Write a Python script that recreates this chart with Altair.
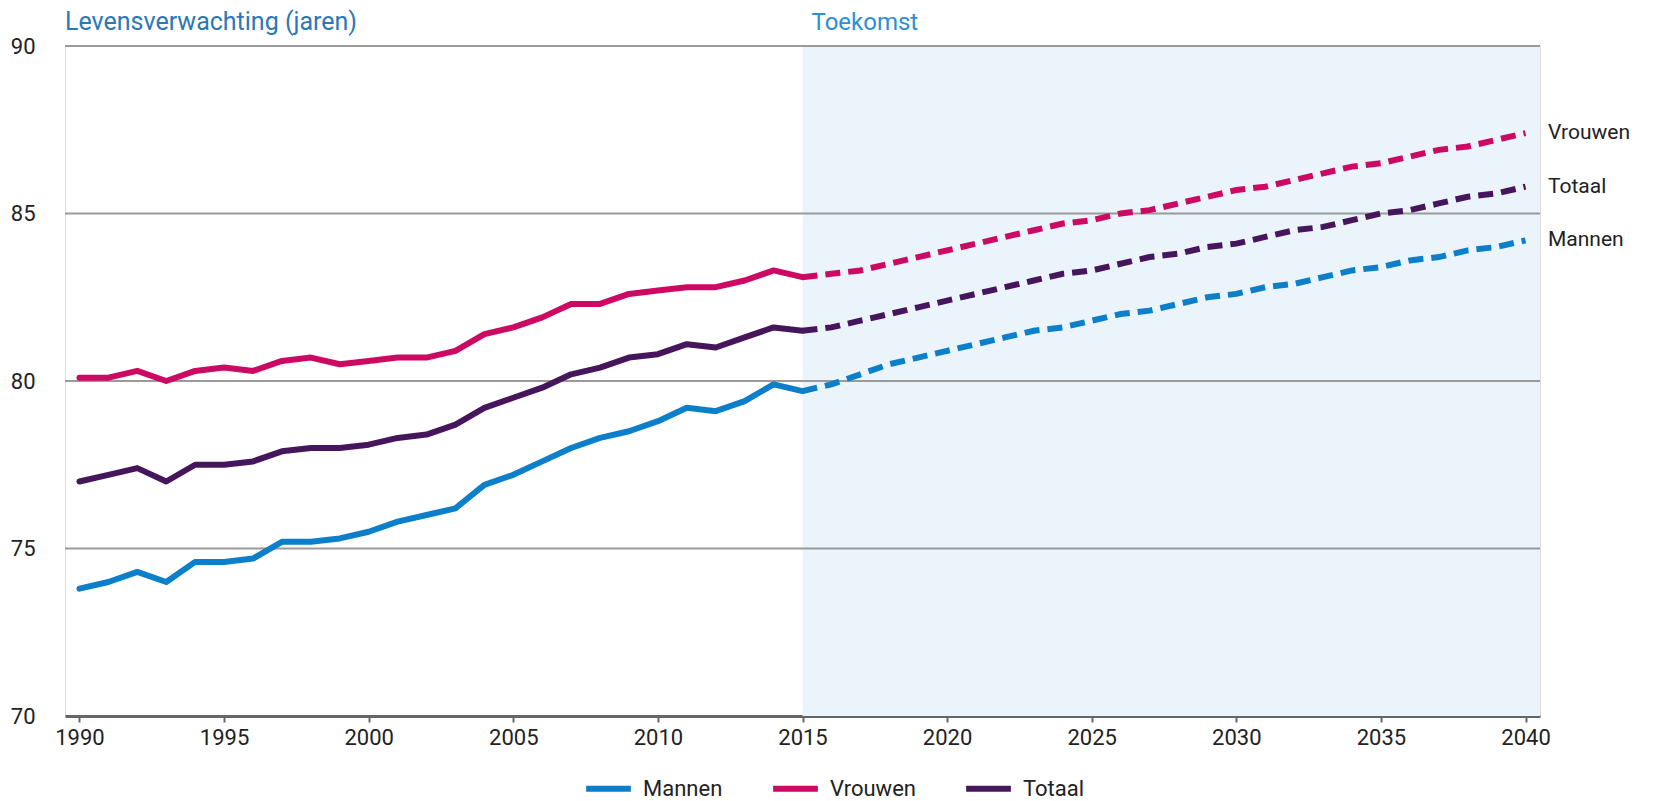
import altair as alt
import pandas as pd

years = list(range(1990, 2041))
last_observed = 2015

mannen = [73.8, 74.0, 74.3, 74.0, 74.6, 74.6, 74.7, 75.2, 75.2, 75.3, 75.5, 75.8, 76.0,
          76.2, 76.9, 77.2, 77.6, 78.0, 78.3, 78.5, 78.8, 79.2, 79.1, 79.4, 79.9, 79.7,
          79.9, 80.2, 80.5, 80.7, 80.9, 81.1, 81.3, 81.5, 81.6, 81.8, 82.0, 82.1, 82.3,
          82.5, 82.6, 82.8, 82.9, 83.1, 83.3, 83.4, 83.6, 83.7, 83.9, 84.0, 84.2]
vrouwen = [80.1, 80.1, 80.3, 80.0, 80.3, 80.4, 80.3, 80.6, 80.7, 80.5, 80.6, 80.7, 80.7,
           80.9, 81.4, 81.6, 81.9, 82.3, 82.3, 82.6, 82.7, 82.8, 82.8, 83.0, 83.3, 83.1,
           83.2, 83.3, 83.5, 83.7, 83.9, 84.1, 84.3, 84.5, 84.7, 84.8, 85.0, 85.1, 85.3,
           85.5, 85.7, 85.8, 86.0, 86.2, 86.4, 86.5, 86.7, 86.9, 87.0, 87.2, 87.4]
totaal = [77.0, 77.2, 77.4, 77.0, 77.5, 77.5, 77.6, 77.9, 78.0, 78.0, 78.1, 78.3, 78.4,
          78.7, 79.2, 79.5, 79.8, 80.2, 80.4, 80.7, 80.8, 81.1, 81.0, 81.3, 81.6, 81.5,
          81.6, 81.8, 82.0, 82.2, 82.4, 82.6, 82.8, 83.0, 83.2, 83.3, 83.5, 83.7, 83.8,
          84.0, 84.1, 84.3, 84.5, 84.6, 84.8, 85.0, 85.1, 85.3, 85.5, 85.6, 85.8]

series_names = ["Mannen", "Vrouwen", "Totaal"]
series_colors = ["#0b7fca", "#cc0a63", "#46165c"]
grid_values = [75, 80, 85, 90]
x_ticks = list(range(1990, 2041, 5))
y_ticks = [70, 75, 80, 85, 90]
x_domain = [1989.5, 2040.5]
y_domain = [70, 90]

FONT = "Roboto, sans-serif"

rows = []
for name, vals in zip(series_names, [mannen, vrouwen, totaal]):
    for yr, v in zip(years, vals):
        if yr <= last_observed:
            rows.append({"jaar": yr, "waarde": v, "serie": name, "deel": "hist"})
        if yr >= last_observed:
            rows.append({"jaar": yr, "waarde": v, "serie": name, "deel": "proj"})
df = pd.DataFrame(rows)

xscale = alt.Scale(domain=x_domain, nice=False, zero=False)
yscale = alt.Scale(domain=y_domain, nice=False, zero=False)

x_axis = alt.Axis(values=x_ticks, format="d", title=None, grid=False,
                  domainColor="#666666", domainWidth=3, tickColor="#666666",
                  tickWidth=2, tickSize=6, labelFontSize=22, labelFont=FONT,
                  labelColor="#222222", labelPadding=5)
y_axis = alt.Axis(values=y_ticks, title=None, grid=False, domain=False, ticks=False,
                  labelFontSize=22, labelFont=FONT, labelColor="#222222",
                  labelPadding=30)


def X(field):
    return alt.X(field, scale=xscale, axis=x_axis)


def Y(field):
    return alt.Y(field, scale=yscale, axis=y_axis)


color = alt.Color(
    "serie:N",
    scale=alt.Scale(domain=series_names, range=series_colors),
    sort=series_names,
    legend=alt.Legend(
        title=None, orient="none", direction="horizontal",
        legendX=518, legendY=717,
        symbolType="stroke", symbolStrokeWidth=6, symbolSize=2000,
        labelFontSize=22, labelFont=FONT, labelColor="#222222",
        columnPadding=38, labelOffset=9,
    ),
)

shade_df = pd.DataFrame({"jaar": [last_observed], "jaar2": [x_domain[1]],
                         "waarde": [y_domain[0]], "waarde2": [y_domain[1]]})
shade = alt.Chart(shade_df).mark_rect(color="#ebf3fb").encode(
    x=X("jaar:Q"), x2="jaar2:Q", y=Y("waarde:Q"), y2="waarde2:Q",
)

grid = alt.Chart(pd.DataFrame({"waarde": grid_values})).mark_rule(
    color="#9a9a9a", strokeWidth=2
).encode(y=Y("waarde:Q"))

hist = alt.Chart(df[df.deel == "hist"]).mark_line(
    strokeWidth=6, strokeJoin="round", strokeCap="round"
).encode(x=X("jaar:Q"), y=Y("waarde:Q"), color=color, detail="serie:N")

proj = alt.Chart(df[df.deel == "proj"]).mark_line(
    strokeWidth=6, strokeDash=[15, 8], strokeCap="butt"
).encode(x=X("jaar:Q"), y=Y("waarde:Q"), color=color, detail="serie:N")

end_df = pd.DataFrame({"serie": series_names,
                       "waarde": [mannen[-1], vrouwen[-1], totaal[-1]],
                       "jaar": [x_domain[1]] * 3})
end_labels = alt.Chart(end_df).mark_text(
    align="left", baseline="middle", dx=8, fontSize=21, font=FONT, color="#222222"
).encode(x=X("jaar:Q"), y=Y("waarde:Q"), text="serie:N")

title_df = pd.DataFrame({"jaar": [x_domain[0]], "waarde": [y_domain[1]],
                         "t": ["Levensverwachting (jaren)"]})
title_txt = alt.Chart(title_df).mark_text(
    align="left", baseline="alphabetic", dy=-16, fontSize=25, font=FONT, color="#2a78b8"
).encode(x=X("jaar:Q"), y=Y("waarde:Q"), text="t:N")

fut_df = pd.DataFrame({"jaar": [last_observed], "waarde": [y_domain[1]], "t": ["Toekomst"]})
fut_txt = alt.Chart(fut_df).mark_text(
    align="left", baseline="alphabetic", dx=9, dy=-16, fontSize=24, font=FONT, color="#2a8fd6"
).encode(x=X("jaar:Q"), y=Y("waarde:Q"), text="t:N")

chart = alt.layer(shade, grid, hist, proj, end_labels, title_txt, fut_txt).properties(
    width=1475, height=670,
    padding={"left": 57, "top": 38, "right": 100, "bottom": 90},
    autosize=alt.AutoSizeParams(type="none"),
).configure_view(stroke="transparent", strokeWidth=0).configure(background="white")

chart.save("out.html", embed_options={"renderer": "svg", "actions": False})
